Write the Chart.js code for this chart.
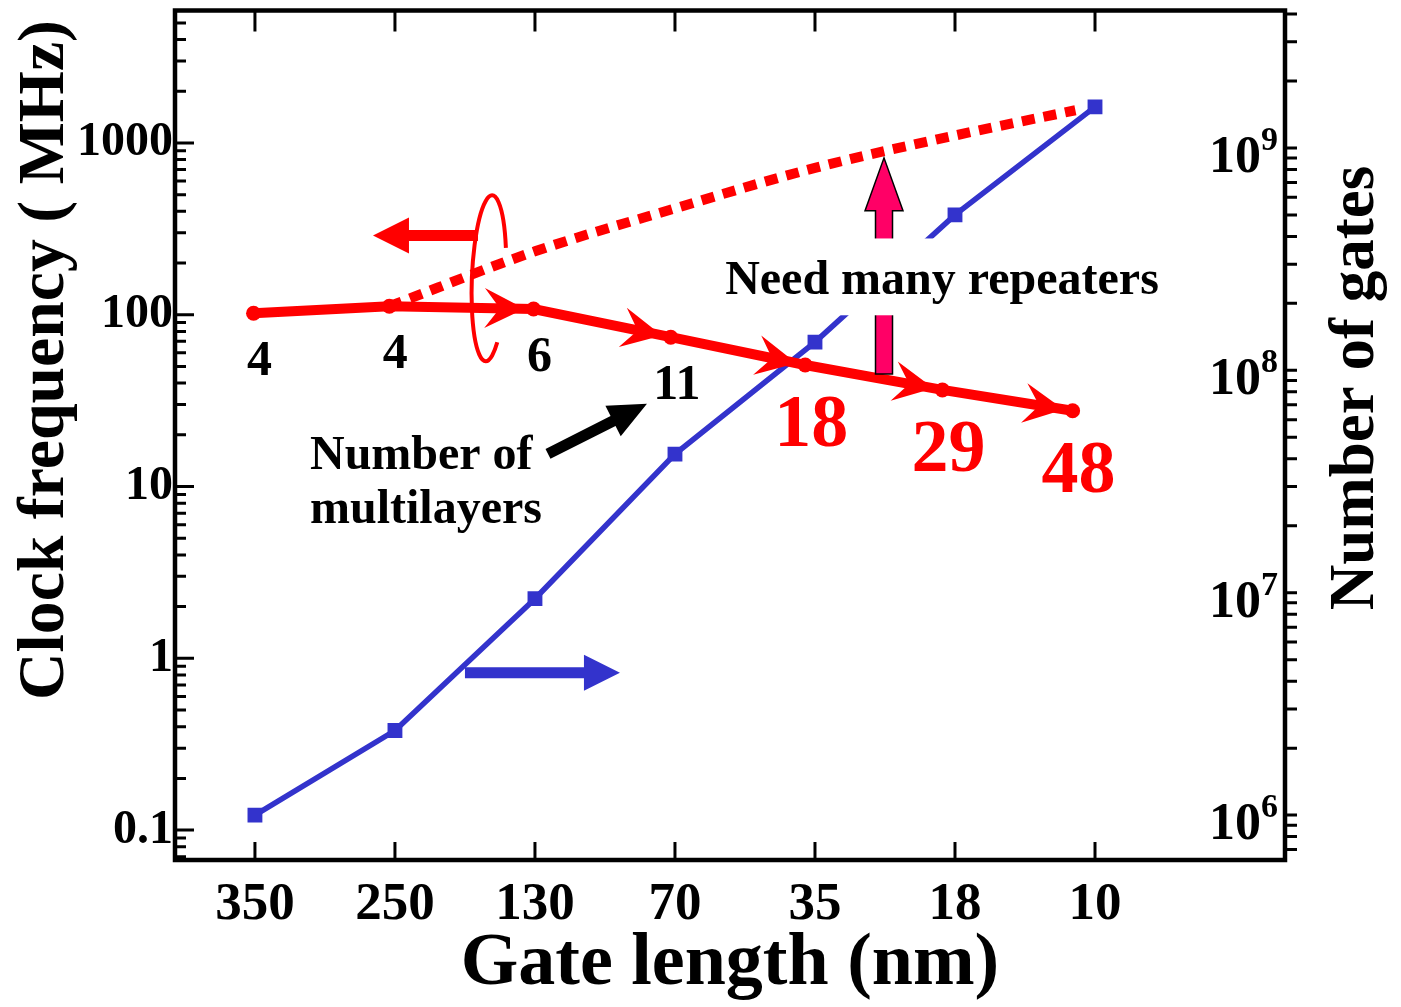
<!DOCTYPE html>
<html>
<head>
<meta charset="utf-8">
<script src="https://cdn.jsdelivr.net/npm/chart.js@4.4.1/dist/chart.umd.min.js"></script>
<style>
  html, body { margin: 0; padding: 0; background: #fff; }
  #wrap { width: 1401px; height: 1007px; }
</style>
</head>
<body>
<div id="wrap"><canvas id="gateChart"></canvas></div>
<script>
// categories (gate length, nm) and their positions on the x axis
const gateLengths = ['350', '250', '130', '70', '35', '18', '10'];
const gateIndex = [0, 1, 2, 3, 4, 5, 6];

// number of gates (right axis)
const numberOfGates = [1.0e6, 2.4e6, 9.4e6, 4.2e7, 1.34e8, 5.0e8, 1.53e9];

// clock frequency with multilayer wiring (left axis, MHz)
const clockPos = [-0.01, 0.96, 1.99, 2.97, 3.93, 4.91, 5.84];
const clockFreq = [102, 112, 108, 74, 51, 36.5, 27.6];
const multilayers = ['4', '4', '6', '11', '18', '29', '48'];

// clock frequency if many repeaters are used (dotted)
const idealPos = [0.96, 2, 3, 4, 5, 5.86];
const idealFreq = [112, 234, 416, 716, 1105, 1550];

// tick labels
const leftTicks = [0.1, 1, 10, 100, 1000];
const leftTickLabels = ['0.1', '1', '10', '100', '1000'];
const rightTicks = [1e6, 1e7, 1e8, 1e9];
const rightTickExp = ['6', '7', '8', '9'];

const SERIF = '"Liberation Serif", "Times New Roman", serif';
const RED = '#FF0000';
const BLUE = '#3333CC';
const PINK = '#FF0066';

function serif(size) {
    return 'bold ' + size + 'px ' + SERIF;
}

function logSteps(min, max) {
    const out = [];
    for (let e = Math.floor(Math.log10(min)); e <= Math.ceil(Math.log10(max)); e++) {
        for (let m = 1; m <= 9; m++) {
            const v = m * Math.pow(10, e);
            if (v >= min && v <= max) out.push({ v: v, major: m === 1 });
        }
    }
    return out;
}

// concave arrow head, tip at (x, y), pointing along ang
function arrowHead(ctx, x, y, ang, len, half, color) {
    ctx.save();
    ctx.translate(x, y);
    ctx.rotate(ang);
    ctx.beginPath();
    ctx.moveTo(0, 0);
    ctx.lineTo(-len, -half);
    ctx.lineTo(-len * 0.62, 0);
    ctx.lineTo(-len, half);
    ctx.closePath();
    ctx.fillStyle = color;
    ctx.fill();
    ctx.restore();
}

// block arrow from (x1,y1) to tip (x2,y2)
function blockArrow(ctx, x1, y1, x2, y2, shaft, headLen, headW, fill, stroke) {
    const ang = Math.atan2(y2 - y1, x2 - x1);
    const len = Math.hypot(x2 - x1, y2 - y1);
    ctx.save();
    ctx.translate(x1, y1);
    ctx.rotate(ang);
    ctx.beginPath();
    ctx.moveTo(0, -shaft / 2);
    ctx.lineTo(len - headLen, -shaft / 2);
    ctx.lineTo(len - headLen, -headW / 2);
    ctx.lineTo(len, 0);
    ctx.lineTo(len - headLen, headW / 2);
    ctx.lineTo(len - headLen, shaft / 2);
    ctx.lineTo(0, shaft / 2);
    ctx.closePath();
    ctx.fillStyle = fill;
    ctx.fill();
    if (stroke) {
        ctx.lineWidth = 1.5;
        ctx.strokeStyle = stroke;
        ctx.stroke();
    }
    ctx.restore();
}

function noPad(s) {
    s.paddingTop = 0;
    s.paddingBottom = 0;
    s.paddingLeft = 0;
    s.paddingRight = 0;
}

const decorPlugin = {
    id: 'decor',
    afterDatasetsDraw(chart) {
        const ctx = chart.ctx;
        const xs = chart.scales.x;
        const yl = chart.scales.y;
        const at = (xi, v) => [xs.getPixelForValue(xi), yl.getPixelForValue(v)];
        ctx.save();

        // arrow heads on the clock frequency segments
        const pts = chart.getDatasetMeta(0).data;
        for (let i = 1; i < pts.length - 1; i++) {
            const a = pts[i], b = pts[i + 1];
            const ang = Math.atan2(b.y - a.y, b.x - a.x);
            arrowHead(ctx, b.x - 9 * Math.cos(ang), b.y - 9 * Math.sin(ang), ang, 40, 20, RED);
        }

        // ring around the red curves + arrow to the left axis
        const ring = at(1.671, 163);
        ctx.beginPath();
        ctx.ellipse(ring[0], ring[1], 17, 83, 0.04, -22 * Math.PI / 180, 50 * Math.PI / 180, true);
        ctx.lineWidth = 4;
        ctx.strokeStyle = RED;
        ctx.stroke();
        let p = at(1.593, 289), q = at(0.843, 289);
        blockArrow(ctx, p[0], p[1], q[0], q[1], 11, 36, 36, RED);

        // blue arrow to the right axis
        p = at(1.5, 0.824); q = at(2.607, 0.824);
        blockArrow(ctx, p[0], p[1], q[0], q[1], 11, 36, 36, BLUE);

        // black arrow pointing at multilayer numbers
        p = at(2.093, 15.5); q = at(2.8, 30.3);
        blockArrow(ctx, p[0], p[1], q[0], q[1], 11, 38, 34, '#000');

        // pink arrow: need many repeaters
        p = at(4.493, 45.2); q = at(4.493, 819);
        blockArrow(ctx, p[0], p[1], q[0], q[1], 17, 53, 38, PINK, '#000');

        // text with white box
        const b1 = at(3.32, 278), b2 = at(6.5, 99.3);
        ctx.fillStyle = '#fff';
        ctx.fillRect(b1[0], b1[1], b2[0] - b1[0], b2[1] - b1[1]);
        ctx.fillStyle = '#000';
        ctx.font = serif(48);
        ctx.textAlign = 'center';
        ctx.textBaseline = 'alphabetic';
        p = at(4.907, 131.5);
        ctx.fillText('Need many repeaters', p[0], p[1]);

        ctx.textAlign = 'left';
        p = at(0.393, 12.7);
        ctx.fillText('Number of', p[0], p[1]);
        p = at(0.393, 6.1);
        ctx.fillText('multilayers', p[0], p[1]);

        // number of multilayers under each point
        ctx.textAlign = 'center';
        pts.forEach((pt, i) => {
            const big = i >= 4;
            ctx.font = serif(big ? 74 : 50);
            ctx.fillStyle = big ? RED : '#000';
            ctx.fillText(multilayers[i], pt.x + 6, pt.y + (big ? 81 : 62));
        });

        ctx.restore();
    },
    afterDraw(chart) {
        const ctx = chart.ctx;
        const area = chart.chartArea;
        const xs = chart.scales.x;
        const yl = chart.scales.y;
        const yr = chart.scales.y2;
        ctx.save();
        ctx.strokeStyle = '#000';
        ctx.lineWidth = 3;
        ctx.beginPath();
        logSteps(yl.min, yl.max).forEach(t => {
            const y = yl.getPixelForValue(t.v);
            ctx.moveTo(area.left, y);
            ctx.lineTo(area.left + (t.major ? 19 : 11), y);
        });
        logSteps(yr.min, yr.max).forEach(t => {
            const y = yr.getPixelForValue(t.v);
            ctx.moveTo(area.right, y);
            ctx.lineTo(area.right + 12, y);
        });
        gateIndex.forEach(i => {
            const x = xs.getPixelForValue(i);
            ctx.moveTo(x, area.top);
            ctx.lineTo(x, area.top + 21);
            ctx.moveTo(x, area.bottom);
            ctx.lineTo(x, area.bottom - 18);
        });
        ctx.stroke();
        ctx.lineWidth = 4.5;
        ctx.strokeRect(area.left, area.top, area.right - area.left, area.bottom - area.top);

        // right tick labels with real superscripts, inside the frame
        ctx.fillStyle = '#000';
        ctx.textBaseline = 'alphabetic';
        rightTicks.forEach((v, i) => {
            const y = yr.getPixelForValue(v);
            ctx.textAlign = 'right';
            ctx.font = serif(34);
            ctx.fillText(rightTickExp[i], area.right - 7, y + 2);
            const w = ctx.measureText(rightTickExp[i]).width;
            ctx.font = serif(52);
            ctx.fillText('10', area.right - 7 - w, y + 24);
        });

        // axis titles (both read bottom-to-top)
        ctx.textAlign = 'center';
        ctx.textBaseline = 'middle';
        ctx.font = serif(66);
        ctx.save();
        ctx.translate(46, 360);
        ctx.rotate(-Math.PI / 2);
        ctx.fillText('Clock frequency ( MHz)', 0, 0, 680);
        ctx.restore();
        ctx.font = serif(63);
        ctx.save();
        ctx.translate(1357, 388);
        ctx.rotate(-Math.PI / 2);
        ctx.fillText('Number of gates', 0, 0, 446);
        ctx.restore();
        ctx.restore();
    }
};

const ctx = document.getElementById('gateChart').getContext('2d');

const gateChart = new Chart(ctx, {
    type: 'line',
    data: {
        datasets: [{
            label: 'Clock frequency',
            data: clockPos.map((x, i) => ({ x: x, y: clockFreq[i] })),
            yAxisID: 'y',
            borderColor: RED,
            backgroundColor: RED,
            borderWidth: 10,
            pointRadius: 7.5,
            pointBorderWidth: 0,
            tension: 0
        }, {
            label: 'With repeaters',
            data: idealPos.map((x, i) => ({ x: x, y: idealFreq[i] })),
            yAxisID: 'y',
            borderColor: RED,
            borderWidth: 10,
            borderDash: [13, 9],
            borderCapStyle: 'butt',
            pointRadius: 0,
            cubicInterpolationMode: 'monotone'
        }, {
            label: 'Number of gates',
            data: gateIndex.map((x, i) => ({ x: x, y: numberOfGates[i] })),
            yAxisID: 'y2',
            borderColor: BLUE,
            backgroundColor: BLUE,
            borderWidth: 5.5,
            pointStyle: 'rect',
            pointRadius: 10.5,
            pointBorderWidth: 0,
            tension: 0
        }]
    },
    options: {
        responsive: true,
        maintainAspectRatio: false,
        animation: false,
        layout: { padding: { top: 7, left: 0, right: 0, bottom: 0 } },
        plugins: {
            legend: { display: false },
            tooltip: { enabled: false }
        },
        scales: {
            x: {
                type: 'linear',
                position: 'bottom',
                min: -0.571,
                max: 7.357,
                afterBuildTicks: s => { s.ticks = gateIndex.map(v => ({ value: v })); },
                afterFit: s => { s.height = 147; noPad(s); },
                grid: { display: false, drawTicks: false },
                border: { display: false },
                ticks: {
                    callback: (v, i) => gateLengths[i],
                    color: '#000',
                    font: { family: SERIF, size: 53, weight: 'bold' },
                    padding: 14,
                    maxRotation: 0,
                    autoSkip: false
                },
                title: {
                    display: true,
                    text: 'Gate length (nm)',
                    color: '#000',
                    font: { family: SERIF, size: 74, weight: 'bold', lineHeight: 1 },
                    padding: { top: 0, bottom: 5 }
                }
            },
            y: {
                type: 'logarithmic',
                position: 'left',
                min: 0.067,
                max: 5903,
                afterBuildTicks: s => { s.ticks = leftTicks.map(v => ({ value: v })); },
                afterFit: s => { s.width = 175; noPad(s); },
                grid: { display: false, drawTicks: false },
                border: { display: false },
                ticks: {
                    callback: (v, i) => leftTickLabels[i],
                    color: '#000',
                    font: { family: SERIF, size: 48, weight: 'bold' },
                    padding: 2,
                    autoSkip: false
                }
            },
            y2: {
                type: 'logarithmic',
                position: 'right',
                min: 6.28e5,
                max: 4.15e9,
                afterBuildTicks: s => { s.ticks = rightTicks.map(v => ({ value: v })); },
                afterFit: s => { s.width = 116; noPad(s); },
                grid: { display: false, drawTicks: false },
                border: { display: false },
                ticks: { display: false }
            }
        }
    },
    plugins: [decorPlugin]
});
</script>
</body>
</html>
